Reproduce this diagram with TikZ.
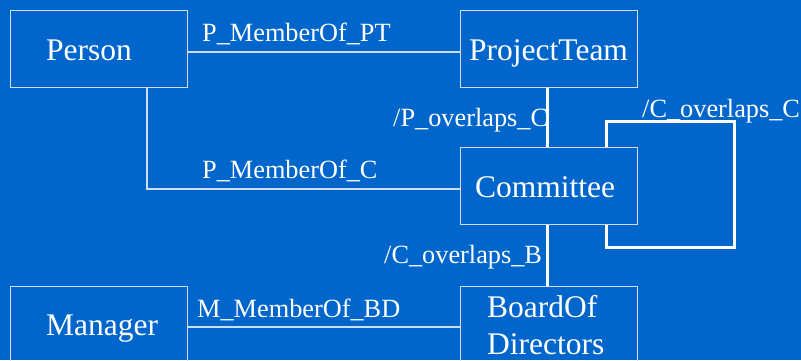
\documentclass[tikz,border=0pt]{standalone}
\usepackage{fontspec}
\setmainfont{Liberation Serif}
\newfontfamily\diagramfont{Liberation Serif}
\definecolor{bgblue}{RGB}{0,102,204}
\definecolor{edgelight}{RGB}{205,222,242}
\tikzset{
  entity/.style={draw=edgelight, line width=1pt, rectangle, inner sep=0pt,
    minimum width=177pt, minimum height=77pt},
  entitytext/.style={text=white, inner sep=0pt, anchor=base west,
    font=\diagramfont\fontsize{31.5}{37}\selectfont},
  reltext/.style={text=white, inner sep=0pt, anchor=base west,
    font=\diagramfont\fontsize{26.3}{30}\selectfont},
  thinrel/.style={draw=edgelight, line width=1.3pt},
  thickrel/.style={draw=white, line width=3pt},
}
\begin{document}
\begin{tikzpicture}[x=1pt,y=-1pt]
  \fill[bgblue] (0,0) rectangle (801,360);
  \useasboundingbox (0,0) rectangle (801,360);
  \clip (0,0) rectangle (801,360);

  % entity boxes
  \node[entity] (person)    at (99,48.5)   {};
  \node[entity] (team)      at (548.5,48.5) {};
  \node[entity] (committee) at (548.5,186) {};
  \node[entity] (board)     at (548.5,324.5) {};
  \node[entity] (manager)   at (99,324.5)  {};

  % entity names
  \node[entitytext] (tperson)    at (46,60)   {Person};
  \node[entitytext] (tteam)      at (469,60)  {ProjectTeam};
  \node[entitytext] (tcommittee) at (475,197) {Committee};
  \node[entitytext] (tboard1)    at (487,317) {BoardOf};
  \node[entitytext] (tboard2)    at (487,354) {Directors};
  \node[entitytext] (tmanager)   at (46,335)  {Manager};

  % relationship names
  \node[reltext] (lpt)  at (202,41)  {P\_MemberOf\_PT};
  \node[reltext] (lpc)  at (202,178) {P\_MemberOf\_C};
  \node[reltext] (lpoc) at (393,126) {/P\_overlaps\_C};
  \node[reltext] (lcoc) at (642,117) {/C\_overlaps\_C};
  \node[reltext] (lcob) at (384,263) {/C\_overlaps\_B};
  \node[reltext] (lmbd) at (197,317) {M\_MemberOf\_BD};

  % membership links
  \draw[thinrel] ([yshift=-3.5pt]person.east) -- ([yshift=-3.5pt]team.west);
  \draw[thinrel] ([xshift=48pt]person.south) |- ([yshift=-3pt]committee.west);
  \draw[thinrel] ([yshift=-2.5pt]manager.east) -- ([yshift=-2.5pt]board.west);

  % overlap links
  \draw[thickrel] ([xshift=-1.5pt]team.south) -- ([xshift=-1.5pt]committee.north);
  \draw[thickrel] ([xshift=-1.5pt]committee.south) -- ([xshift=-1.5pt]board.north);
  \coordinate (loopstart) at ([xshift=57.5pt]committee.north);
  \coordinate (loopend)   at ([xshift=57.5pt]committee.south);
  \draw[thickrel] (loopstart) -- ++(0,-26) -- ++(128,0) -- ++(0,126) -| (loopend);
\end{tikzpicture}
\end{document}
